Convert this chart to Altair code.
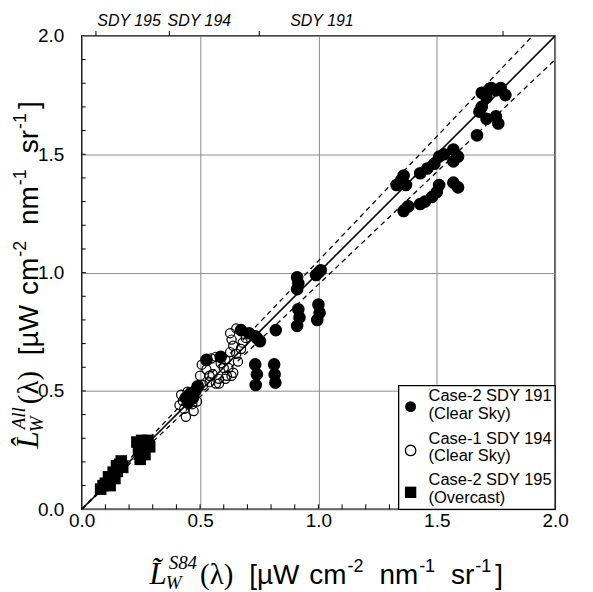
import altair as alt
import pandas as pd

# ---------------- data ----------------
# Case-2 SDY 191 (clear sky) - filled circles
sdy191_x = [1.69, 1.73, 1.77, 1.79, 1.71, 1.75, 1.68, 1.71, 1.75, 1.76, 1.69, 1.67,
            1.57, 1.59, 1.57, 1.53, 1.51, 1.49, 1.46, 1.43, 1.35, 1.37, 1.33, 1.36,
            1.57, 1.59, 1.51, 1.50, 1.48, 1.45, 1.43, 1.38, 1.36,
            1.00, 1.01, 0.99, 0.91, 0.915, 0.91, 0.915, 0.92, 0.91, 1.00, 1.005, 0.995,
            0.82, 0.733, 0.74, 0.735, 0.813, 0.815, 0.818,
            0.733, 0.753, 0.673, 0.707, 0.74,
            0.44, 0.46, 0.48, 0.45, 0.47, 0.49, 0.527, 0.587]
sdy191_y = [1.76, 1.78, 1.78, 1.75, 1.74, 1.77, 1.68, 1.65, 1.66, 1.63, 1.70, 1.58,
            1.52, 1.49, 1.47, 1.50, 1.49, 1.46, 1.44, 1.42, 1.39, 1.37, 1.37, 1.41,
            1.38, 1.36, 1.37, 1.34, 1.32, 1.30, 1.29, 1.28, 1.26,
            1.00, 1.01, 0.99, 0.98, 0.955, 0.93, 0.845, 0.81, 0.775, 0.865, 0.83, 0.80,
            0.757, 0.612, 0.57, 0.525, 0.612, 0.57, 0.535,
            0.731, 0.71, 0.757, 0.744, 0.724,
            0.47, 0.49, 0.50, 0.45, 0.47, 0.52, 0.631, 0.644]

# Case-1 SDY 194 (clear sky) - open circles
sdy194_x = [0.633, 0.64, 0.627, 0.653, 0.607, 0.62, 0.64, 0.613, 0.58, 0.567,
            0.553, 0.527, 0.507, 0.5, 0.54, 0.513, 0.487, 0.447, 0.427, 0.433,
            0.467, 0.68, 0.693, 0.673, 0.6, 0.66, 0.587, 0.547, 0.567, 0.627,
            0.653, 0.44, 0.413, 0.473, 0.487, 0.42, 0.54, 0.607, 0.633, 0.58]
sdy194_y = [0.717, 0.691, 0.664, 0.657, 0.631, 0.597, 0.577, 0.564, 0.551, 0.531,
            0.571, 0.591, 0.611, 0.564, 0.537, 0.524, 0.511, 0.497, 0.457, 0.424,
            0.444, 0.704, 0.724, 0.677, 0.597, 0.624, 0.617, 0.637, 0.644, 0.744,
            0.764, 0.391, 0.44, 0.415, 0.455, 0.484, 0.564, 0.551, 0.564, 0.531]

# Case-2 SDY 195 (overcast) - filled squares
sdy195_x = [0.08, 0.09, 0.10, 0.12, 0.113, 0.133, 0.14, 0.147, 0.15, 0.16, 0.167, 0.173,
            0.233, 0.253, 0.28, 0.24, 0.267, 0.247, 0.287, 0.26, 0.25, 0.275]
sdy195_y = [0.085, 0.10, 0.11, 0.10, 0.137, 0.157, 0.13, 0.184, 0.16, 0.19, 0.204, 0.177,
            0.284, 0.291, 0.291, 0.251, 0.231, 0.211, 0.264, 0.27, 0.24, 0.28]

major_ticks = [0.0, 0.5, 1.0, 1.5, 2.0]
minor_ticks = [0.1, 0.2, 0.3, 0.4, 0.5, 0.6, 0.7, 0.8, 0.9, 1.0,
               1.1, 1.2, 1.3, 1.4, 1.5, 1.6, 1.7, 1.8, 1.9]
top_ticks = [0.06, 0.37, 0.75, 1.78]
top_labels = ["SDY 195", "SDY 194", "SDY 191"]
top_label_x = [0.20, 0.497, 1.015]
ref_slopes = [1.0, 1.05, 0.95]
legend_lines = [["Case-2 SDY 191", "(Clear Sky)"],
                ["Case-1 SDY 194", "(Clear Sky)"],
                ["Case-2 SDY 195", "(Overcast)"]]

# ---------------- layout helpers ----------------
SANS = "Liberation Sans"
SERIF = "Liberation Serif"
W = H = 475
PX = W / 2.0


def px2x(p):
    return p / PX


def px2y(p):
    return 2.0 - p / PX


xs = alt.Scale(domain=[0, 2], nice=False, zero=False)
ys = alt.Scale(domain=[0, 2], nice=False, zero=False)
ax_common = dict(values=major_ticks, format=".1f", grid=True, gridColor="#8c8c8c",
                 gridWidth=1, ticks=False, domain=False, labelFont=SANS,
                 labelFontSize=19, labelColor="black", labelFlush=False,
                 labelOverlap=False)
x_axis = alt.Axis(labelPadding=2, **ax_common)
y_axis = alt.Axis(labelPadding=18, **ax_common)


def X(f="x"):
    return alt.X(f"{f}:Q", scale=xs, axis=x_axis, title=None)


def Y(f="y"):
    return alt.Y(f"{f}:Q", scale=ys, axis=y_axis, title=None)


one = pd.DataFrame({"a": [0]})
layers = []

# minor ticks (inward)
tdf = pd.DataFrame({"t": minor_ticks})
layers.append(alt.Chart(tdf).mark_rule(color="black", strokeWidth=1).encode(
    x=X("t"), y=alt.value(H), y2=alt.value(H - 5)))
layers.append(alt.Chart(tdf).mark_rule(color="black", strokeWidth=1).encode(
    y=Y("t"), x=alt.value(0), x2=alt.value(4)))
# top ticks (outward) and group labels
layers.append(alt.Chart(pd.DataFrame({"t": top_ticks})).mark_rule(
    color="black", strokeWidth=1).encode(x=X("t"), y=alt.value(0), y2=alt.value(-5)))
layers.append(alt.Chart(pd.DataFrame({"x": top_label_x, "lab": top_labels})).mark_text(
    font=SANS, fontSize=16, fontStyle="italic", align="center", baseline="alphabetic",
    color="black").encode(x=X("x"), y=alt.value(-10), text="lab:N"))

# reference lines
ldf = pd.DataFrame({"x": [0.0, 2.0] * 3,
                    "k": [ref_slopes[0]] * 2 + [ref_slopes[1]] * 2 + [ref_slopes[2]] * 2})
base_line = alt.Chart(ldf).transform_calculate(y="datum.x * datum.k")
layers.append(base_line.transform_filter("datum.k == 1").mark_line(
    color="black", strokeWidth=1.6, clip=True).encode(x=X(), y=Y()))
layers.append(base_line.transform_filter("datum.k != 1").mark_line(
    color="black", strokeWidth=1.3, strokeDash=[5, 4], clip=True).encode(
    x=X(), y=Y(), detail="k:N"))

# data points
layers.append(alt.Chart(pd.DataFrame({"x": sdy194_x, "y": sdy194_y})).mark_point(
    shape="circle", filled=False, size=85, color="black", strokeWidth=1.2,
    opacity=1).encode(x=X(), y=Y()))
layers.append(alt.Chart(pd.DataFrame({"x": sdy191_x, "y": sdy191_y})).mark_point(
    shape="circle", filled=True, size=160, color="black", opacity=1).encode(x=X(), y=Y()))
layers.append(alt.Chart(pd.DataFrame({"x": sdy195_x, "y": sdy195_y})).mark_point(
    shape="square", filled=True, size=135, color="black", opacity=1).encode(x=X(), y=Y()))

# legend (drawn by hand)
layers.append(alt.Chart(one).mark_rect(fill="white", stroke="black", strokeWidth=1.3).encode(
    x=alt.value(318), x2=alt.value(W), y=alt.value(351), y2=alt.value(H)))
layers.append(alt.Chart(one).mark_point(shape="circle", filled=True, size=120, color="black",
                                         opacity=1).encode(x=alt.value(330), y=alt.value(372)))
layers.append(alt.Chart(one).mark_point(shape="circle", filled=False, size=110, color="black",
                                         strokeWidth=1.3, opacity=1).encode(
    x=alt.value(330), y=alt.value(416)))
layers.append(alt.Chart(one).mark_point(shape="square", filled=True, size=130, color="black",
                                         opacity=1).encode(x=alt.value(330), y=alt.value(458)))
leg_rows = []
entry_base = [366.0, 409.0, 451.0]
for lines, b in zip(legend_lines, entry_base):
    for j, t in enumerate(lines):
        leg_rows.append({"x": px2x(348), "y": px2y(b + j * 18), "t": t})
layers.append(alt.Chart(pd.DataFrame(leg_rows)).mark_text(
    font=SANS, fontSize=16.5, align="left", baseline="alphabetic", color="black").encode(
    x=X(), y=Y(), text="t:N"))

# axis titles built from pieces (math italic + superscripts)
AR = {' ': 278, '[': 278, ']': 278, 'µ': 576, 'W': 944, 'c': 500, 'm': 833, 'n': 556,
      's': 500, 'r': 333, '-': 333, '1': 556, '2': 556}
TI = {'L': 556, 'W': 833, 'S': 500, '8': 500, '4': 500, 'A': 611, 'l': 278}
TR = {'(': 333, ')': 333, 'λ': 550}


def wid(text, table, size):
    return sum(table.get(c, 0) for c in text) * size / 1000.0


STY = {
    "big": (SERIF, "italic", 31),
    "small": (SERIF, "italic", 19),
    "serif": (SERIF, "normal", 29),
    "sans": (SANS, "normal", 28),
    "sup": (SANS, "normal", 18),
}


def build_title(main, sub, sup, start, base, vertical, sup_off):
    rows = {k: [] for k in STY}

    def put(kind, text, along, off):
        if vertical:
            rows[kind].append({"x": px2x(base + off), "y": px2y(start - along), "t": text})
        else:
            rows[kind].append({"x": px2x(start + along), "y": px2y(base + off), "t": text})

    pos = 0.0
    put("big", main, pos, 0)
    pos += wid(main[0], TI, STY["big"][2]) + 1
    put("small", sub, pos - 2, 5)
    put("small", sup, pos + 1, sup_off)
    pos += max(wid(sub, TI, STY["small"][2]), wid(sup, TI, STY["small"][2]) + 1) + 3
    seq = [("serif", "(λ)", TR, 0, 14), ("sans", "[µW", AR, 0, 10), ("sans", "cm", AR, 0, 1),
           ("sup", "-2", AR, -12, 16), ("sans", "nm", AR, 0, 1), ("sup", "-1", AR, -12, 16),
           ("sans", "sr", AR, 0, 1), ("sup", "-1", AR, -12, 4), ("sans", "]", AR, 0, 0)]
    for kind, text, table, off, gap in seq:
        put(kind, text, pos, off)
        pos += wid(text, table, STY[kind][2]) + gap
    return rows


def title_layers(rows, angle):
    out = []
    for kind, rr in rows.items():
        fam, style, size = STY[kind]
        out.append(alt.Chart(pd.DataFrame(rr)).mark_text(
            font=fam, fontStyle=style, fontSize=size, align="left", baseline="alphabetic",
            angle=angle, color="black").encode(x=X(), y=Y(), text="t:N"))
    return out


layers += title_layers(build_title("L\u0303", "W", "S84", 68, 550, False, -15), 0)
layers += title_layers(build_title("L\u0302", "W", "All", 414, -44, True, -13), 270)

chart = alt.layer(*layers).properties(
    width=W, height=H,
    autosize=alt.AutoSizeParams(type="none"),
    padding={"left": 74, "top": 27, "right": 30, "bottom": 82},
    background="white",
).configure_view(stroke="black", strokeWidth=1.5)

chart.save("out.html", embed_options={"renderer": "svg", "actions": False})
